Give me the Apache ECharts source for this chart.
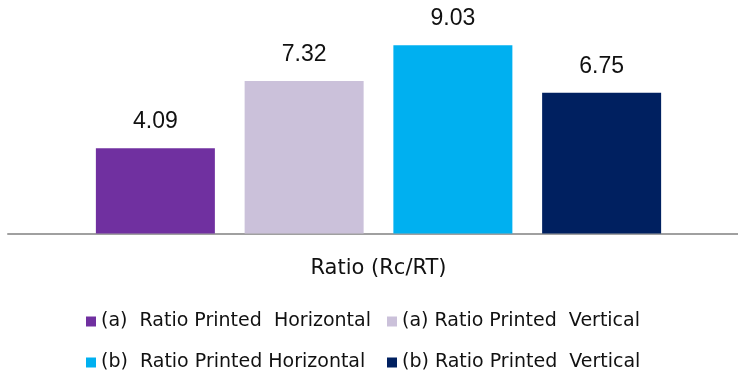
<!DOCTYPE html>
<html>
<head>
<meta charset="utf-8">
<script src="https://cdn.jsdelivr.net/npm/echarts@6/dist/echarts.min.js"></script>
<style>
  html, body { margin: 0; padding: 0; background: #fff; }
  #chart { width: 738px; height: 374px; }
</style>
</head>
<body>
<div id="chart"></div>
<script>
// Category shown on the x axis
const categories = ['Ratio (Rc/RT)'];

// Series names as they appear in the legend
const seriesNames = [
  '(a)  Ratio Printed  Horizontal',
  '(a) Ratio Printed  Vertical',
  '(b)  Ratio Printed Horizontal',
  '(b) Ratio Printed  Vertical'
];

// One value per series
const aHorizontal = [4.09];
const aVertical = [7.32];
const bHorizontal = [9.03];
const bVertical = [6.75];

const seriesValues = [aHorizontal, aVertical, bHorizontal, bVertical];
const colors = ['#7030A0', '#CBC1DA', '#00B0F0', '#002060'];

const chart = echarts.init(document.getElementById('chart'), null, { renderer: 'canvas' });

const legendText = {
  fontFamily: 'DejaVu Sans',
  fontSize: 19,
  color: '#111'
};

chart.setOption({
  animation: false,
  backgroundColor: '#fff',
  grid: {
    left: 8, right: -11, top: 25, bottom: 140.5,
    containLabel: false,
    outerBoundsMode: 'none'
  },
  xAxis: {
    type: 'category',
    data: categories,
    axisLine: { show: true, lineStyle: { color: '#a0a0a0', width: 2 } },
    axisTick: { show: false },
    axisLabel: {
      margin: 25,
      fontFamily: 'DejaVu Sans',
      fontSize: 21,
      color: '#111'
    }
  },
  yAxis: {
    type: 'value',
    min: 0,
    max: 10,
    show: false,
    splitLine: { show: false }
  },
  legend: [
    {
      orient: 'vertical',
      left: 86,
      top: 312,
      padding: 0,
      itemWidth: 10,
      itemHeight: 10,
      itemGap: 22,
      icon: 'rect',
      textStyle: legendText,
      data: [seriesNames[0], seriesNames[2]]
    },
    {
      orient: 'vertical',
      left: 387,
      top: 312,
      padding: 0,
      itemWidth: 10,
      itemHeight: 10,
      itemGap: 22,
      icon: 'rect',
      textStyle: legendText,
      data: [seriesNames[1], seriesNames[3]]
    }
  ],
  series: seriesNames.map((name, i) => ({
    name: name,
    type: 'bar',
    data: seriesValues[i],
    barWidth: 119,
    barGap: '25%',
    itemStyle: { color: colors[i] },
    label: {
      show: true,
      position: 'top',
      distance: 15,
      fontFamily: 'Liberation Sans',
      fontSize: 23,
      color: '#111',
      formatter: (p) => p.value.toFixed(2)
    }
  }))
});
</script>
</body>
</html>
